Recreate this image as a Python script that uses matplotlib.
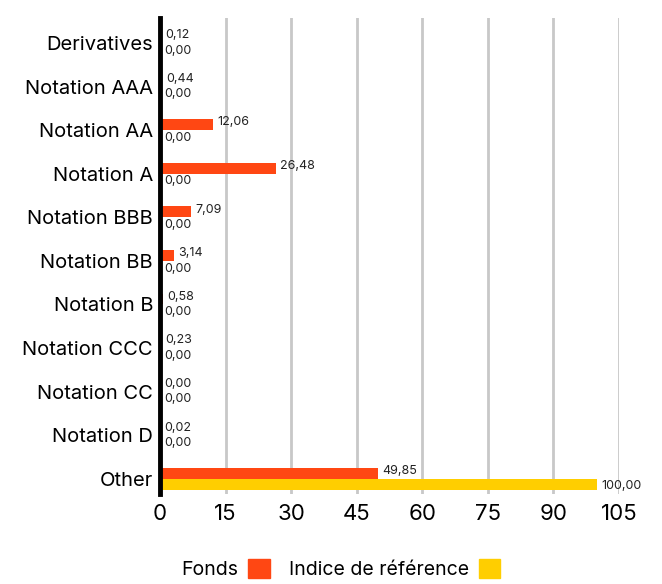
import matplotlib

matplotlib.use("Agg")
import matplotlib.pyplot as plt
from matplotlib.patches import Patch

plt.rcParams["font.family"] = ["Inter", "DejaVu Sans"]

categories = [
    "Derivatives", "Notation AAA", "Notation AA", "Notation A", "Notation BBB",
    "Notation BB", "Notation B", "Notation CCC", "Notation CC", "Notation D", "Other",
]
fonds = [0.12, 0.44, 12.06, 26.48, 7.09, 3.14, 0.58, 0.23, 0.00, 0.02, 49.85]
indice = [0.00, 0.00, 0.00, 0.00, 0.00, 0.00, 0.00, 0.00, 0.00, 0.00, 100.00]
xticks = [0, 15, 30, 45, 60, 75, 90, 105]
series_names = ["Fonds", "Indice de référence"]
colors = ["#FF4713", "#FFCE00"]


def fmt(v: float) -> str:
    return f"{v:.2f}".replace(".", ",")


fig = plt.figure(figsize=(6.62, 5.84), dpi=100)
ax = fig.add_axes([0.2417, 0.154, 0.935 - 0.2417, 0.969 - 0.154])

n = len(categories)
ypos = [n - 1 - i for i in range(n)]
h = 0.25
ax.barh([y + h / 2 for y in ypos], fonds, height=h, color=colors[0], zorder=3)
ax.barh([y - h / 2 for y in ypos], indice, height=h, color=colors[1], zorder=3)

for y, f, b in zip(ypos, fonds, indice):
    ax.text(f + 1.0, y + h / 2 + 0.05, fmt(f), fontsize=9, va="center", ha="left", color="#222222")
    ax.text(b + 1.0, y - h / 2 - 0.05, fmt(b), fontsize=9, va="center", ha="left", color="#222222")

ax.set_xlim(0, 105)
ax.set_ylim(-0.35, n - 1 + 0.57)
ax.set_xticks(xticks)
ax.set_xticklabels([str(t) for t in xticks], fontsize=16)
ax.set_yticks(ypos)
ax.set_yticklabels(categories, fontsize=14.5)
ax.tick_params(axis="y", length=0, pad=5)
ax.tick_params(axis="x", length=0, pad=7)
ax.grid(axis="x", color="#c8c8c8", linewidth=2, zorder=0)
for side in ["top", "right", "bottom"]:
    ax.spines[side].set_visible(False)
ax.spines["left"].set_linewidth(3.5)
ax.spines["left"].set_color("black")
ax.spines["left"].set_zorder(4)

handles = [Patch(color=c, label=s) for c, s in zip(colors, series_names)]
fig.legend(handles=handles, loc="center", bbox_to_anchor=(0.515, 0.025), ncol=2,
           frameon=False, markerfirst=False, fontsize=14, handlelength=1.1,
           handleheight=1.1, columnspacing=1.0, handletextpad=0.5)

fig.savefig("out.png", dpi=100)
plt.close(fig)
